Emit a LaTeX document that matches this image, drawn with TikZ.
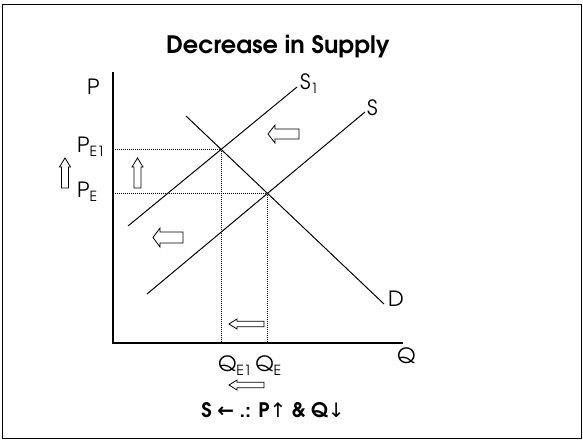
\documentclass[tikz,border=0pt]{standalone}
\usepackage{fontspec}
\setmainfont{texgyreadventor}[Extension=.otf, UprightFont=*-regular, BoldFont=*-bold]
\newfontfamily\symf{DejaVu Sans}
\usetikzlibrary{intersections}
\newcommand{\sbs}[1]{\raisebox{-4.5pt}{\fontsize{14}{14}\selectfont #1}}
\tikzset{
  axisline/.style={line width=1.4pt},
  curve/.style={line width=1pt},
  guide/.style={line width=0.6pt, dash pattern=on 1pt off 1pt},
  lbl/.style={font=\fontsize{21}{21}\selectfont, inner sep=0pt, anchor=base west},
  blkline/.style={draw, line width=0.8pt, fill=white, line join=miter},
  pics/leftblk/.style n args={4}{code={
    \draw[blkline] (0,0) -- (#2,-#3) -- (#2,-#4) -- (#1,-#4) -- (#1,#4) -- (#2,#4) -- (#2,#3) -- cycle;}},
  pics/upblk/.style n args={4}{code={
    \draw[blkline] (0,0) -- (#3,#2) -- (#4,#2) -- (#4,#1) -- (-#4,#1) -- (-#4,#2) -- (-#3,#2) -- cycle;}}
}
\begin{document}
\begin{tikzpicture}[x=1pt,y=-1pt]
\useasboundingbox (0,0) rectangle (583,440);
\draw[line width=1.6pt] (2.5,4.5) rectangle (581.5,438.5);
% title
\node[font=\fontsize{24}{24}\selectfont\bfseries, inner sep=0pt, anchor=base] (title) at (278,53) {Decrease in Supply};
% axes
\coordinate (top) at (113,72);
\coordinate (orig) at (113,343);
\coordinate (qend) at (403,343);
\draw[axisline] (top) -- (orig) -- (qend);
% curves
\coordinate (S1a) at (128,226);
\coordinate (S1b) at (297,87);
\coordinate (Sa) at (147,294);
\coordinate (Sb) at (365,112);
\coordinate (Da) at (186,116);
\coordinate (Db) at (384,304);
\draw[curve, name path=s1] (S1a) -- (S1b);
\draw[curve, name path=s] (Sa) -- (Sb);
\draw[curve, name path=d] (Da) -- (Db);
\path[name intersections={of=s1 and d, by=E1}];
\path[name intersections={of=s and d, by=E}];
% guides
\draw[guide] (orig |- E1) -- (E1) -- (E1 |- orig);
\draw[guide] (orig |- E) -- (E) -- (E |- orig);
% labels
\node[lbl] (P) at (87,94) {P};
\node[lbl] (PE1) at (77,152) {P\sbs{E1}};
\node[lbl] (PE) at (77,197) {P\sbs{E}};
\node[lbl] (S1l) at (300,89) {S\sbs{1}};
\node[lbl] (Sl) at (367,115) {S};
\node[lbl] (Dl) at (388,306) {D};
\node[lbl] (Ql) at (397,363) {Q};
\node[lbl] (QE) at (218,371) {Q\sbs{E1}\,Q\sbs{E}};
% block arrows
\pic at (65,158) {upblk={30}{9}{5.5}{3.5}};
\pic at (137.5,158) {upblk={30}{9}{5.5}{3.5}};
\pic at (268,134) {leftblk={31}{7}{9}{5}};
\pic at (153,237.5) {leftblk={30}{7}{9.5}{5.5}};
\pic at (229,324) {leftblk={35}{8}{5}{2.7}};
\pic at (229,385) {leftblk={35}{8}{5}{2.7}};
% bottom text
\node[font=\fontsize{20}{20}\selectfont\bfseries, inner sep=0pt, anchor=base] (concl) at (273,417) {S {\symf ←} .: P{\symf\mdseries ↑} \& Q{\symf\mdseries ↓}};
\end{tikzpicture}
\end{document}
